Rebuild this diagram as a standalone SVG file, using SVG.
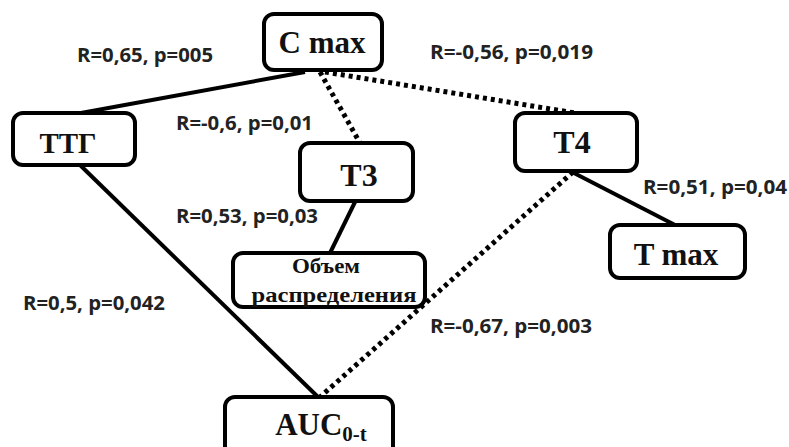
<svg xmlns="http://www.w3.org/2000/svg" width="789" height="447" viewBox="0 0 789 447">
<style>
.box{fill:#fff;stroke:#000;stroke-width:4}
.n{font-family:"Liberation Serif","Times New Roman",serif;font-weight:bold;fill:#111;text-anchor:middle}
.lbl{font-family:"Open Sans","Liberation Sans",sans-serif;font-weight:bold;font-size:19px;fill:#222}
.solid{stroke:#000;stroke-width:4;fill:none}
.dot{stroke:#000;stroke-width:5;fill:none;stroke-dasharray:4 4}
</style>
<rect width="789" height="447" fill="#fff"/>
<g id="connectors">
<line class="solid" x1="305" y1="72" x2="70" y2="115"/>
<line class="dot" x1="320" y1="72" x2="360" y2="143"/>
<line class="dot" x1="325" y1="72" x2="575" y2="113"/>
<line class="solid" x1="355" y1="202" x2="330" y2="253"/>
<line class="solid" x1="572" y1="172" x2="675" y2="225"/>
<line class="solid" x1="80" y1="165" x2="318" y2="397"/>
<line class="dot" x1="573" y1="172" x2="320" y2="397"/>
</g>
<g id="labels">
<text class="lbl" x="77" y="62" textLength="136" lengthAdjust="spacingAndGlyphs">R=0,65, p=005</text>
<text class="lbl" x="430" y="59" textLength="163" lengthAdjust="spacingAndGlyphs">R=-0,56, p=0,019</text>
<text class="lbl" x="176" y="130" textLength="137" lengthAdjust="spacingAndGlyphs">R=-0,6, p=0,01</text>
<text class="lbl" x="643" y="194" textLength="144" lengthAdjust="spacingAndGlyphs">R=0,51, p=0,04</text>
<text class="lbl" x="176" y="223" textLength="142" lengthAdjust="spacingAndGlyphs">R=0,53, p=0,03</text>
<text class="lbl" x="23" y="310" textLength="142" lengthAdjust="spacingAndGlyphs">R=0,5, p=0,042</text>
<text class="lbl" x="430" y="333" textLength="162" lengthAdjust="spacingAndGlyphs">R=-0,67, p=0,003</text>
</g>
<g id="cmax"><rect class="box" x="264" y="14" width="118" height="56" rx="10"/><text class="n" x="322" y="53" font-size="31">C max</text></g>
<g id="ttg"><rect class="box" x="13" y="113" width="122" height="52" rx="10"/><text class="n" x="68" y="153" font-size="29">ТТГ</text></g>
<g id="t3"><rect class="box" x="300" y="143" width="113" height="58" rx="10"/><text class="n" x="359" y="186" font-size="32">Т3</text></g>
<g id="t4"><rect class="box" x="515" y="113" width="122" height="58" rx="10"/><text class="n" x="572" y="153" font-size="32">Т4</text></g>
<g id="vol"><rect class="box" x="233" y="253" width="192" height="54" rx="10"/><text class="n" x="326" y="273" font-size="20" textLength="68" lengthAdjust="spacingAndGlyphs">Объем</text><text class="n" x="334" y="302" font-size="21" textLength="165" lengthAdjust="spacingAndGlyphs">распределения</text></g>
<g id="tmax"><rect class="box" x="610" y="225" width="135" height="53" rx="10"/><text class="n" x="676" y="265" font-size="31">T max</text></g>
<g id="auc"><rect class="box" x="225" y="397" width="168" height="70" rx="10"/><text class="n" x="321" y="435" font-size="31">AUC<tspan font-size="21" dy="6">0-t</tspan></text></g>
</svg>
